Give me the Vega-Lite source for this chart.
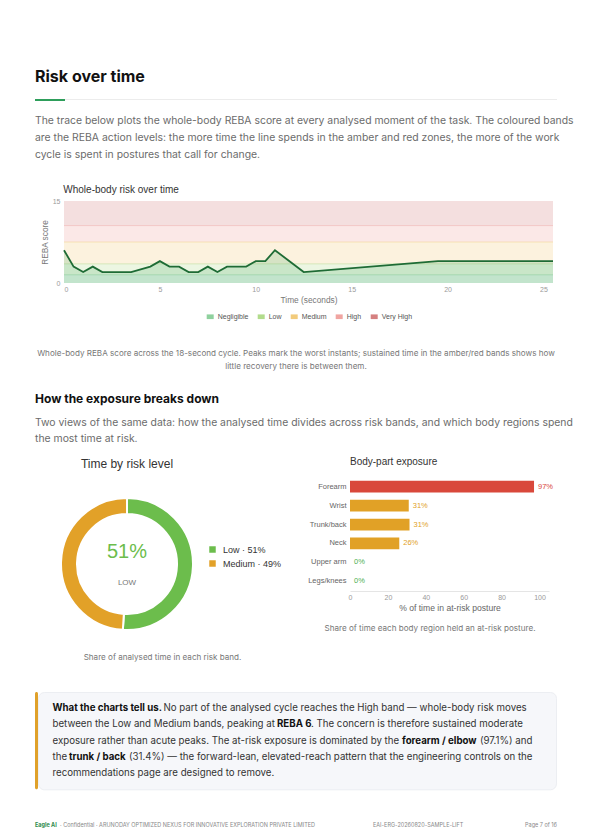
{
  "$schema": "https://vega.github.io/schema/vega-lite/v6.json",
  "background": "white",
  "padding": {"left": 35, "top": 65, "right": 37, "bottom": 11},
  "spacing": 0,
  "resolve": {"scale": {"color": "independent"}, "legend": {"color": "independent"}},
  "config": {
    "font": "Inter",
    "view": {"stroke": null},
    "text": {"baseline": "middle", "font": "Inter"},
    "title": {"font": "Inter", "fontWeight": "normal", "color": "#333333"},
    "axisX": {"labelOverlap": false}
  },
  "vconcat": [
    {
      "width": 522, "height": 24,
      "data": {"values": [{"text": "Risk over time"}]},
      "mark": {"type": "text", "align": "left", "fontSize": 16, "fontWeight": "bold", "color": "#111111"},
      "encoding": {
        "x": {"datum": 0, "type": "quantitative", "scale": {"domain": [0, 1]}, "axis": null},
        "text": {"field": "text"}
      }
    },
    {"width": 1, "height": 9.5, "data": {"values": []}, "mark": {"type": "text"}, "encoding": {"text": {"value": ""}}},
    {
      "hconcat": [
        {"width": 30, "height": 2, "view": {"fill": "#2e9e5b", "stroke": null}, "data": {"values": []}, "mark": {"type": "text"}, "encoding": {"text": {"value": ""}}},
        {"width": 492, "height": 1, "view": {"fill": "#ececec", "stroke": null}, "data": {"values": []}, "mark": {"type": "text"}, "encoding": {"text": {"value": ""}}}
      ],
      "spacing": 0, "bounds": "flush"
    },
    {"width": 1, "height": 11.15, "data": {"values": []}, "mark": {"type": "text"}, "encoding": {"text": {"value": ""}}},
    {
      "width": 522, "height": 50.1,
      "data": {"values": [
        {"line": 1, "text": "The trace below plots the whole-body REBA score at every analysed moment of the task. The coloured bands"},
        {"line": 2, "text": "are the REBA action levels: the more time the line spends in the amber and red zones, the more of the work"},
        {"line": 3, "text": "cycle is spent in postures that call for change."}
      ]},
      "mark": {"type": "text", "align": "left", "fontSize": 10.4, "color": "#6b6b6b"},
      "encoding": {
        "x": {"datum": 0, "type": "quantitative", "scale": {"domain": [0, 1]}, "axis": null},
        "y": {"field": "line", "type": "ordinal", "axis": null, "scale": {"type": "point", "padding": 0.5}},
        "text": {"field": "text"}
      }
    },
    {"width": 1, "height": 18.55, "data": {"values": []}, "mark": {"type": "text"}, "encoding": {"text": {"value": ""}}},
    {
      "width": 522, "height": 14,
      "data": {"values": [{"text": "Whole-body risk over time"}]},
      "mark": {"type": "text", "align": "left", "font": "Liberation Sans", "fontSize": 10, "color": "#333333", "dx": 28.3},
      "encoding": {
        "x": {"datum": 0, "type": "quantitative", "scale": {"domain": [0, 1]}, "axis": null},
        "text": {"field": "text"}
      }
    },
    {
      "hconcat": [
        {"width": 28.3, "height": 140, "data": {"values": []}, "mark": {"type": "text"}, "encoding": {"text": {"value": ""}}},
        {
          "width": 489, "height": 82,
          "layer": [
            {
              "data": {"values": [
                {"band": "Negligible", "lo": 0, "hi": 1.5},
                {"band": "Low", "lo": 1.5, "hi": 3.5},
                {"band": "Medium", "lo": 3.5, "hi": 7.5},
                {"band": "High", "lo": 7.5, "hi": 10.5},
                {"band": "Very High", "lo": 10.5, "hi": 15}
              ]},
              "mark": {"type": "rect", "opacity": 0.25},
              "encoding": {
                "y": {"field": "lo", "type": "quantitative", "scale": {"domain": [0, 15], "nice": false},
                  "axis": {"values": [0, 5, 10, 15], "title": "REBA score", "grid": false, "domain": false, "ticks": false,
                    "labelFont": "Liberation Sans", "labelFontSize": 7, "labelColor": "#9a9a9a", "labelPadding": 4,
                    "titleFont": "Liberation Sans", "titleFontSize": 8.3, "titleColor": "#777777", "titleFontWeight": "normal", "titlePadding": 3}},
                "y2": {"field": "hi"},
                "color": {"field": "band", "type": "nominal",
                  "scale": {"domain": ["Negligible", "Low", "Medium", "High", "Very High"],
                            "range": ["#8fd19e", "#b2dc8c", "#f2cb7c", "#f0a5a1", "#d58080"]},
                  "legend": {"orient": "none", "legendX": 171.7, "legendY": 112, "direction": "horizontal", "title": null,
                    "symbolType": "M-1,-0.67L1,-0.67L1,0.67L-1,0.67Z", "symbolSize": 49, "symbolStrokeWidth": 0,
                    "symbolOpacity": 1, "labelFont": "Liberation Sans", "labelFontSize": 7, "labelColor": "#555555", "labelOffset": 4, "columnPadding": 9}}
              }
            },
            {
              "data": {"values": [
                {"band": "Negligible", "hi": 1.5},
                {"band": "Low", "hi": 3.5},
                {"band": "Medium", "hi": 7.5},
                {"band": "High", "hi": 10.5}
              ]},
              "mark": {"type": "rule", "strokeWidth": 1, "opacity": 0.45},
              "encoding": {
                "y": {"field": "hi", "type": "quantitative", "title": "REBA score"},
                "color": {"field": "band", "type": "nominal", "legend": null}
              }
            },
            {
              "data": {"name": "trace"},
              "mark": {"type": "area", "color": "#2e9e55", "opacity": 0.18},
              "encoding": {
                "x": {"field": "t", "type": "quantitative", "scale": {"domain": [0, 25.5], "nice": false},
                  "axis": {"values": [0, 5, 10, 15, 20, 25], "title": "Time (seconds)", "grid": false, "domain": false, "ticks": false,
                    "labelFont": "Liberation Sans", "labelFontSize": 7, "labelColor": "#9a9a9a", "labelPadding": 2,
                    "titleFont": "Liberation Sans", "titleFontSize": 8.3, "titleColor": "#777777", "titleFontWeight": "normal", "titlePadding": 3}},
                "y": {"field": "reba", "type": "quantitative", "title": "REBA score"}
              }
            },
            {
              "data": {"name": "trace"},
              "mark": {"type": "line", "color": "#1e6b35", "strokeWidth": 1.8},
              "encoding": {
                "x": {"field": "t", "type": "quantitative", "title": "Time (seconds)"},
                "y": {"field": "reba", "type": "quantitative", "title": "REBA score"}
              }
            }
          ]
        }
      ],
      "spacing": 0, "bounds": "flush"
    },
    {"width": 1, "height": 6.95, "data": {"values": []}, "mark": {"type": "text"}, "encoding": {"text": {"value": ""}}},
    {
      "width": 522, "height": 25.4,
      "data": {"values": [
        {"line": 1, "text": "Whole-body REBA score across the 18-second cycle. Peaks mark the worst instants; sustained time in the amber/red bands shows how"},
        {"line": 2, "text": "little recovery there is between them."}
      ]},
      "mark": {"type": "text", "align": "center", "fontSize": 8.1, "color": "#777777"},
      "encoding": {
        "x": {"datum": 0.5, "type": "quantitative", "scale": {"domain": [0, 1]}, "axis": null},
        "y": {"field": "line", "type": "ordinal", "axis": null, "scale": {"type": "point", "padding": 0.5}},
        "text": {"field": "text"}
      }
    },
    {"width": 1, "height": 14.65, "data": {"values": []}, "mark": {"type": "text"}, "encoding": {"text": {"value": ""}}},
    {
      "width": 522, "height": 20,
      "data": {"values": [{"text": "How the exposure breaks down"}]},
      "mark": {"type": "text", "align": "left", "fontSize": 12, "fontWeight": "bold", "color": "#111111", "letterSpacing": -0.6},
      "encoding": {
        "x": {"datum": 0, "type": "quantitative", "scale": {"domain": [0, 1]}, "axis": null},
        "text": {"field": "text"}
      }
    },
    {"width": 1, "height": 5.8, "data": {"values": []}, "mark": {"type": "text"}, "encoding": {"text": {"value": ""}}},
    {
      "width": 522, "height": 32,
      "data": {"values": [
        {"line": 1, "text": "Two views of the same data: how the analysed time divides across risk bands, and which body regions spend"},
        {"line": 2, "text": "the most time at risk."}
      ]},
      "mark": {"type": "text", "align": "left", "fontSize": 10.4, "color": "#6b6b6b"},
      "encoding": {
        "x": {"datum": 0, "type": "quantitative", "scale": {"domain": [0, 1]}, "axis": null},
        "y": {"field": "line", "type": "ordinal", "axis": null, "scale": {"type": "point", "padding": 0.5}},
        "text": {"field": "text"}
      }
    },
    {"width": 1, "height": 7.7, "data": {"values": []}, "mark": {"type": "text"}, "encoding": {"text": {"value": ""}}},
    {
      "hconcat": [
        {"width": 17, "height": 16, "data": {"values": []}, "mark": {"type": "text"}, "encoding": {"text": {"value": ""}}},
        {
          "width": 150, "height": 16,
          "data": {"values": [{"text": "Time by risk level"}]},
          "mark": {"type": "text", "align": "center", "font": "Liberation Sans", "fontSize": 12, "color": "#333333", "dy": 1},
          "encoding": {
            "x": {"datum": 0.5, "type": "quantitative", "scale": {"domain": [0, 1]}, "axis": null},
            "text": {"field": "text"}
          }
        },
        {"width": 148, "height": 16, "data": {"values": []}, "mark": {"type": "text"}, "encoding": {"text": {"value": ""}}},
        {
          "width": 199, "height": 16,
          "data": {"values": [{"text": "Body-part exposure"}]},
          "mark": {"type": "text", "align": "left", "font": "Liberation Sans", "fontSize": 10, "color": "#333333", "dy": -1},
          "encoding": {
            "x": {"datum": 0, "type": "quantitative", "scale": {"domain": [0, 1]}, "axis": null},
            "text": {"field": "text"}
          }
        }
      ],
      "spacing": 0, "bounds": "flush"
    },
    {"width": 1, "height": 6, "data": {"values": []}, "mark": {"type": "text"}, "encoding": {"text": {"value": ""}}},
    {
      "hconcat": [
        {"width": 17, "height": 200, "data": {"values": []}, "mark": {"type": "text"}, "encoding": {"text": {"value": ""}}},
        {
          "width": 150, "height": 174,
          "layer": [
            {
              "data": {"values": [
                {"level": "Low", "share": 51, "label": "Low · 51%"},
                {"level": "Medium", "share": 49, "label": "Medium · 49%"}
              ]},
              "mark": {"type": "arc", "innerRadius": 50, "outerRadius": 66, "stroke": "white", "strokeWidth": 2},
              "encoding": {
                "theta": {"field": "share", "type": "quantitative"},
                "color": {"field": "label", "type": "nominal",
                  "scale": {"domain": ["Low · 51%", "Medium · 49%"], "range": ["#6cbd4c", "#e2a128"]},
                  "legend": {"orient": "none", "legendX": 156, "legendY": 68, "title": null, "symbolType": "square",
                    "symbolSize": 42, "symbolStrokeWidth": 0, "labelFont": "Liberation Sans", "labelFontSize": 9, "labelColor": "#333333",
                    "labelOffset": 6, "rowPadding": 4}}
              }
            },
            {
              "data": {"values": [{"headline": "51%", "band": "LOW", "caption": "Share of analysed time in each risk band."}]},
              "mark": {"type": "text", "font": "Liberation Sans", "fontSize": 20, "color": "#6cbd4c", "dy": -12},
              "encoding": {"text": {"field": "headline"}}
            },
            {
              "data": {"values": [{"headline": "51%", "band": "LOW", "caption": "Share of analysed time in each risk band."}]},
              "mark": {"type": "text", "font": "Liberation Sans", "fontSize": 8, "color": "#777777", "dy": 19},
              "encoding": {"text": {"field": "band"}}
            },
            {
              "data": {"values": [{"headline": "51%", "band": "LOW", "caption": "Share of analysed time in each risk band."}]},
              "mark": {"type": "text", "fontSize": 8.1, "color": "#777777", "dy": 93.7, "dx": 35.5},
              "encoding": {"text": {"field": "caption"}}
            }
          ]
        },
        {"width": 148, "height": 1, "data": {"values": []}, "mark": {"type": "text"}, "encoding": {"text": {"value": ""}}},
        {
          "width": 199, "height": 114,
          "layer": [
            {
              "data": {"name": "parts"},
              "mark": {"type": "bar"},
              "encoding": {
                "y": {"field": "part", "type": "nominal", "sort": null,
                  "scale": {"paddingInner": 0.38, "paddingOuter": 0.2},
                  "axis": {"title": null, "domain": false, "ticks": false, "labelFont": "Liberation Sans", "labelFontSize": 7.5, "labelColor": "#666666", "labelPadding": 4}},
                "x": {"field": "pct", "type": "quantitative", "scale": {"domain": [0, 105], "nice": false},
                  "axis": {"values": [0, 20, 40, 60, 80, 100], "title": "% of time in at-risk posture", "grid": false, "ticks": false, "labelOverlap": false, "labelFlush": false,
                    "domain": true, "domainColor": "#e5e5e5", "labelFont": "Liberation Sans", "labelFontSize": 7, "labelColor": "#999999", "labelPadding": 2,
                    "titleFont": "Liberation Sans", "titleFontSize": 8.6, "titleColor": "#666666", "titleFontWeight": "normal", "titlePadding": 3}},
                "color": {"field": "level", "type": "nominal",
                  "scale": {"domain": ["High", "Medium", "Low"], "range": ["#d9483b", "#e1a126", "#4caf50"]}, "legend": null}
              }
            },
            {
              "data": {"name": "parts"},
              "mark": {"type": "text", "align": "left", "dx": 4, "font": "Liberation Sans", "fontSize": 7.5},
              "encoding": {
                "y": {"field": "part", "type": "nominal", "sort": null},
                "x": {"field": "pct", "type": "quantitative",
                  "axis": {"values": [0, 20, 40, 60, 80, 100], "title": "% of time in at-risk posture", "grid": false, "ticks": false, "labelOverlap": false, "labelFlush": false,
                    "domain": true, "domainColor": "#e5e5e5", "labelFont": "Liberation Sans", "labelFontSize": 7, "labelColor": "#999999", "labelPadding": 2,
                    "titleFont": "Liberation Sans", "titleFontSize": 8.6, "titleColor": "#666666", "titleFontWeight": "normal", "titlePadding": 3}},
                "text": {"field": "label"},
                "color": {"field": "level", "type": "nominal", "legend": null}
              }
            },
            {
              "data": {"values": [{"caption": "Share of time each body region held an at-risk posture."}]},
              "mark": {"type": "text", "fontSize": 8.1, "color": "#777777", "dy": 95, "dx": -19.5},
              "encoding": {"text": {"field": "caption"}}
            }
          ]
        }
      ],
      "spacing": 0, "bounds": "flush",
      "resolve": {"scale": {"color": "independent"}, "legend": {"color": "independent"}}
    },
    {"width": 1, "height": 13.7, "data": {"values": []}, "mark": {"type": "text"}, "encoding": {"text": {"value": ""}}},
    {
      "hconcat": [
        {"width": 3, "height": 97.3, "view": {"fill": "#e0a12a", "stroke": null, "cornerRadius": 2}, "data": {"values": []}, "mark": {"type": "text"}, "encoding": {"text": {"value": ""}}},
        {
          "width": 518, "height": 97.3,
          "view": {"fill": "#f6f7fa", "stroke": "#eceef2", "cornerRadius": 6},
          "data": {"values": [
            {"line": 1, "seg": "1a", "text": "What the charts tell us."},
            {"line": 1, "seg": "1b", "text": "No part of the analysed cycle reaches the High band — whole-body risk moves"},
            {"line": 2, "seg": "2a", "text": "between the Low and Medium bands, peaking at"},
            {"line": 2, "seg": "2b", "text": "REBA 6"},
            {"line": 2, "seg": "2c", "text": ". The concern is therefore sustained moderate"},
            {"line": 3, "seg": "3a", "text": "exposure rather than acute peaks. The at-risk exposure is dominated by the"},
            {"line": 3, "seg": "3b", "text": "forearm / elbow"},
            {"line": 3, "seg": "3c", "text": "(97.1%) and"},
            {"line": 4, "seg": "4a", "text": "the"},
            {"line": 4, "seg": "4b", "text": "trunk / back"},
            {"line": 4, "seg": "4c", "text": "(31.4%) — the forward-lean, elevated-reach pattern that the engineering controls on the"},
            {"line": 5, "seg": "5a", "text": "recommendations page are designed to remove."}
          ]},
          "encoding": {
            "x": {"datum": 0, "type": "quantitative", "scale": {"domain": [0, 1]}, "axis": null},
            "y": {"field": "line", "type": "ordinal", "axis": null, "scale": {"type": "point", "domain": [1, 2, 3, 4, 5], "padding": 1.287}},
            "text": {"field": "text"}
          },
          "layer": [
            {"transform": [{"filter": "indexof(['2a','3a','4a','5a'], datum.seg) >= 0"}], "mark": {"type": "text", "align": "left", "fontSize": 9.7, "color": "#333333", "dx": 14.5}},
            {"transform": [{"filter": "datum.seg == '1a'"}], "mark": {"type": "text", "align": "left", "fontSize": 9.7, "fontWeight": "bold", "color": "#111111", "dx": 14.5}},
            {"transform": [{"filter": "datum.seg == '1b'"}], "mark": {"type": "text", "align": "left", "fontSize": 9.7, "color": "#333333", "dx": 125.5}},
            {"transform": [{"filter": "datum.seg == '2b'"}], "mark": {"type": "text", "align": "left", "fontSize": 9.7, "fontWeight": "bold", "color": "#111111", "dx": 239}},
            {"transform": [{"filter": "datum.seg == '2c'"}], "mark": {"type": "text", "align": "left", "fontSize": 9.7, "color": "#333333", "dx": 273}},
            {"transform": [{"filter": "datum.seg == '3b'"}], "mark": {"type": "text", "align": "left", "fontSize": 9.7, "fontWeight": "bold", "color": "#111111", "dx": 364}},
            {"transform": [{"filter": "datum.seg == '3c'"}], "mark": {"type": "text", "align": "left", "fontSize": 9.7, "color": "#333333", "dx": 442}},
            {"transform": [{"filter": "datum.seg == '4b'"}], "mark": {"type": "text", "align": "left", "fontSize": 9.7, "fontWeight": "bold", "color": "#111111", "dx": 31}},
            {"transform": [{"filter": "datum.seg == '4c'"}], "mark": {"type": "text", "align": "left", "fontSize": 9.7, "color": "#333333", "dx": 91}}
          ]
        }
      ],
      "spacing": 0, "bounds": "flush"
    },
    {"width": 1, "height": 29, "data": {"values": []}, "mark": {"type": "text"}, "encoding": {"text": {"value": ""}}},
    {
      "width": 522, "height": 12,
      "data": {"values": [
        {"seg": "brand", "text": "Eagle AI"},
        {"seg": "org", "text": "· Confidential · ARUNODAY OPTIMIZED NEXUS FOR INNOVATIVE EXPLORATION PRIVATE LIMITED"},
        {"seg": "doc", "text": "EAI-ERG-20260820-SAMPLE-LIFT"},
        {"seg": "page", "text": "Page 7 of 16"}
      ]},
      "encoding": {
        "x": {"datum": 0, "type": "quantitative", "scale": {"domain": [0, 1]}, "axis": null},
        "text": {"field": "text"}
      },
      "layer": [
        {"transform": [{"filter": "datum.seg == 'brand'"}], "mark": {"type": "text", "align": "left", "fontSize": 5.5, "fontWeight": "bold", "color": "#2e8b4e"}},
        {"transform": [{"filter": "datum.seg == 'org'"}], "mark": {"type": "text", "align": "left", "fontSize": 5.5, "color": "#888888", "dx": 25}},
        {"transform": [{"filter": "datum.seg == 'doc'"}], "mark": {"type": "text", "align": "left", "fontSize": 5.5, "color": "#888888", "dx": 338}},
        {"transform": [{"filter": "datum.seg == 'page'"}], "mark": {"type": "text", "align": "right", "fontSize": 5.5, "color": "#888888"},
         "encoding": {"x": {"datum": 1, "type": "quantitative"}}}
      ]
    }
  ],
  "datasets": {
    "trace": [
      {"t": 0, "reba": 6}, {"t": 0.5, "reba": 3}, {"t": 1, "reba": 2}, {"t": 1.5, "reba": 3},
      {"t": 2, "reba": 2}, {"t": 3.5, "reba": 2}, {"t": 4.5, "reba": 3}, {"t": 5, "reba": 4},
      {"t": 5.5, "reba": 3}, {"t": 6, "reba": 3}, {"t": 6.5, "reba": 2}, {"t": 7, "reba": 2},
      {"t": 7.5, "reba": 3}, {"t": 8, "reba": 2}, {"t": 8.5, "reba": 3}, {"t": 9.5, "reba": 3},
      {"t": 10, "reba": 4}, {"t": 10.5, "reba": 4}, {"t": 11, "reba": 6}, {"t": 12.5, "reba": 2},
      {"t": 19.5, "reba": 4}, {"t": 25.5, "reba": 4}
    ],
    "parts": [
      {"part": "Forearm", "pct": 97.1, "label": "97%", "level": "High"},
      {"part": "Wrist", "pct": 31, "label": "31%", "level": "Medium"},
      {"part": "Trunk/back", "pct": 31.4, "label": "31%", "level": "Medium"},
      {"part": "Neck", "pct": 26, "label": "26%", "level": "Medium"},
      {"part": "Upper arm", "pct": 0, "label": "0%", "level": "Low"},
      {"part": "Legs/knees", "pct": 0, "label": "0%", "level": "Low"}
    ]
  }
}
